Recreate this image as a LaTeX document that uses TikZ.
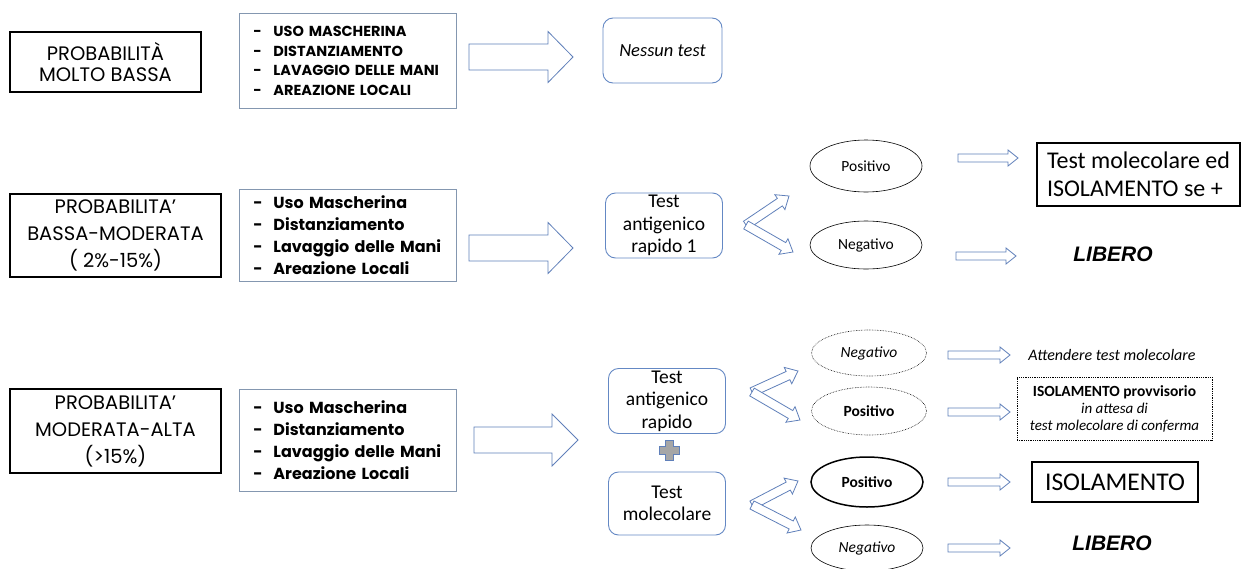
\documentclass[tikz,border=0pt]{standalone}
\usepackage{fontspec}
\setmainfont{Carlito}
\newfontfamily\probfont{Poppins}
\newfontfamily\arialfont{Liberation Sans}
\usetikzlibrary{calc,shapes.geometric}
\definecolor{framegray}{RGB}{132,151,176}
\definecolor{bluearrow}{RGB}{96,128,186}
\definecolor{roundblue}{RGB}{100,136,196}
\definecolor{plusgray}{RGB}{166,166,166}
\newcommand{\voce}[1]{\makebox[20pt][l]{-}#1}
\newcommand{\hollowarrow}[5]{%
  \draw[arrowline] let \p1=($(#2)-(#1)$), \n1={atan2(\y1,\x1)}, \n2={veclen(\x1,\y1)} in
    [shift={(#1)}, rotate=\n1]
    (0pt,-#3pt) -- ({\n2-#5pt},-#3pt) -- ({\n2-#5pt},-#4pt) -- ({\n2+0pt},0pt)
    -- ({\n2-#5pt},#4pt) -- ({\n2-#5pt},#3pt) -- (0pt,#3pt) -- cycle;}
\begin{document}
\begin{tikzpicture}[x=1pt, y=-1pt,
  probbox/.style={draw, line width=1.3pt, align=center, inner sep=0pt, font=\probfont\fontsize{19.5}{27}\selectfont},
  misure/.style={draw=framegray, line width=0.8pt, anchor=north west, align=left, inner xsep=14pt, text width=189pt, font=\probfont\bfseries\fontsize{16}{22}\selectfont},
  testbox/.style={draw=roundblue, rounded corners=10pt, line width=0.9pt, align=center, minimum width=117pt, inner sep=0pt, font=\fontsize{19.5}{22.5}\selectfont},
  esito/.style={draw, ellipse, minimum width=112pt, minimum height=50pt, inner sep=0pt, line width=0.6pt, font=\fontsize{15.5}{17}\selectfont},
  arrowline/.style={draw=bluearrow, line width=0.8pt, fill=white, line join=miter},
  liberostyle/.style={font=\arialfont\bfseries\itshape\fontsize{21}{24}\selectfont},
  plusmark/.style={draw=bluearrow, fill=plusgray, line width=0.8pt}]
\path[use as bounding box, fill=white] (0,0) rectangle (1245,568);
%Row 1
\node[probbox, minimum width=191pt, minimum height=60pt, font=\probfont\fontsize{19.5}{21}\selectfont] (prob1) at (105.5,62) {PROBABILITÀ\\MOLTO BASSA};
\node[misure, minimum height=95pt, font=\probfont\bfseries\fontsize{14.5}{19.5}\selectfont] (misure1) at (239,13) {\voce{USO MASCHERINA}\\\voce{DISTANZIAMENTO}\\\voce{LAVAGGIO DELLE MANI}\\\voce{AREAZIONE LOCALI}};
\node[testbox, minimum width=119pt, minimum height=65pt, font=\itshape\fontsize{18.5}{20}\selectfont] (nessun) at (662.5,50.5) {Nessun test};
\coordinate (fr1a) at (469,57);
\coordinate (fr1b) at (573,57);
\hollowarrow{fr1a}{fr1b}{13}{25.5}{25}
%Row 2
\node[probbox, minimum width=211pt, minimum height=83pt] (prob2) at (115.5,235.5) {PROBABILITA’\\BASSA-MODERATA\\( 2\%-15\%)};
\node[misure, minimum height=92pt] (misure2) at (239,189) {\voce{Uso Mascherina}\\\voce{Distanziamento}\\\voce{Lavaggio delle Mani}\\\voce{Areazione Locali}};
\node[testbox, minimum height=65pt] (antigen1) at (664,225.5) {Test\\antigenico\\rapido 1};
\node[esito, minimum height=52pt] (pos1) at (866,166) {Positivo};
\node[esito, minimum height=48pt] (neg1) at (866,245) {Negativo};
\node[draw, line width=2pt, minimum width=203pt, minimum height=63pt, align=left, font=\fontsize{24}{28}\selectfont] (molec1) at (1138.5,174.5) {Test molecolare ed\\ISOLAMENTO se +};
\node[liberostyle] (libero1) at (1113,254) {LIBERO};
\coordinate (fr2a) at (469,248);
\coordinate (fr2b) at (573,248);
\hollowarrow{fr2a}{fr2b}{13}{25.5}{25}
\coordinate (bv1) at (746,225);
\coordinate (up1) at (789,196);
\coordinate (dn1) at (793,252);
\hollowarrow{bv1}{up1}{4.5}{9}{11}
\hollowarrow{bv1}{dn1}{4.5}{9}{11}
\coordinate (p1a) at (958,158);
\coordinate (p1b) at (1018,158);
\coordinate (n1a) at (956,256);
\coordinate (n1b) at (1016,256);
\hollowarrow{p1a}{p1b}{4}{8}{10}
\hollowarrow{n1a}{n1b}{4}{8}{10}
%Row 3
\node[probbox, minimum width=211pt, minimum height=84pt] (prob3) at (115.5,431) {PROBABILITA’\\MODERATA-ALTA\\(>15\%)};
\node[misure, minimum height=102pt] (misure3) at (239,389) {\voce{Uso Mascherina}\\\voce{Distanziamento}\\\voce{Lavaggio delle Mani}\\\voce{Areazione Locali}};
\node[testbox, minimum height=65pt] (antigen2) at (667,401) {Test\\antigenico\\rapido};
\node[testbox, minimum height=63pt] (molecolare) at (667,503.5) {Test\\molecolare};
\draw[plusmark, shift={(669,450.5)}] (-4,-10) -- (4,-10) -- (4,-4) -- (10,-4) -- (10,4) -- (4,4) -- (4,10) -- (-4,10) -- (-4,4) -- (-10,4) -- (-10,-4) -- (-4,-4) -- cycle;
\node[esito, densely dotted, minimum width=115pt, minimum height=46pt, font=\itshape\fontsize{15.5}{17}\selectfont] (neg2) at (869,353) {Negativo};
\node[esito, densely dotted, minimum width=115pt, minimum height=48pt, font=\bfseries\fontsize{15.5}{17}\selectfont] (pos2) at (869,411) {Positivo};
\node[esito, line width=1.5pt, minimum height=50pt, font=\bfseries\fontsize{15.5}{17}\selectfont] (pos3) at (867,482) {Positivo};
\node[esito, minimum height=46pt, font=\itshape\fontsize{15.5}{17}\selectfont] (neg3) at (867,548) {Negativo};
\node[font=\itshape\fontsize{16}{18}\selectfont] (attendi) at (1112,355) {Attendere test molecolare};
\node[draw, densely dotted, line width=0.8pt, minimum width=195pt, minimum height=63pt, align=center, font=\fontsize{15}{17}\selectfont] (provv) at (1114.5,408.5) {{\bfseries\fontsize{15.5}{18}\selectfont ISOLAMENTO provvisorio}\\\itshape in attesa di\\\itshape test molecolare di conferma};
\node[draw, line width=2pt, minimum width=166pt, minimum height=40pt, font=\fontsize{25.5}{28}\selectfont] (isol) at (1115,482) {ISOLAMENTO};
\node[liberostyle] (libero2) at (1112,543) {LIBERO};
\coordinate (fr3a) at (474,440);
\coordinate (fr3b) at (578,440);
\hollowarrow{fr3a}{fr3b}{13}{26}{26}
\coordinate (bv2) at (752,392);
\coordinate (up2) at (798,371);
\coordinate (dn2) at (800,420);
\hollowarrow{bv2}{up2}{4.5}{9}{11}
\hollowarrow{bv2}{dn2}{4.5}{9}{11}
\coordinate (bv3) at (752,505);
\coordinate (up3) at (798,481);
\coordinate (dn3) at (801,530);
\hollowarrow{bv3}{up3}{4.5}{9}{11}
\hollowarrow{bv3}{dn3}{4.5}{9}{11}
\coordinate (p2a) at (948,355);
\coordinate (p2b) at (1010,355);
\coordinate (p3a) at (948,412);
\coordinate (p3b) at (1010,412);
\coordinate (p4a) at (948,482);
\coordinate (p4b) at (1010,482);
\coordinate (p5a) at (948,548);
\coordinate (p5b) at (1010,548);
\hollowarrow{p2a}{p2b}{4}{8}{10}
\hollowarrow{p3a}{p3b}{4}{8}{10}
\hollowarrow{p4a}{p4b}{4}{8}{10}
\hollowarrow{p5a}{p5b}{4}{8}{10}
\end{tikzpicture}
\end{document}
